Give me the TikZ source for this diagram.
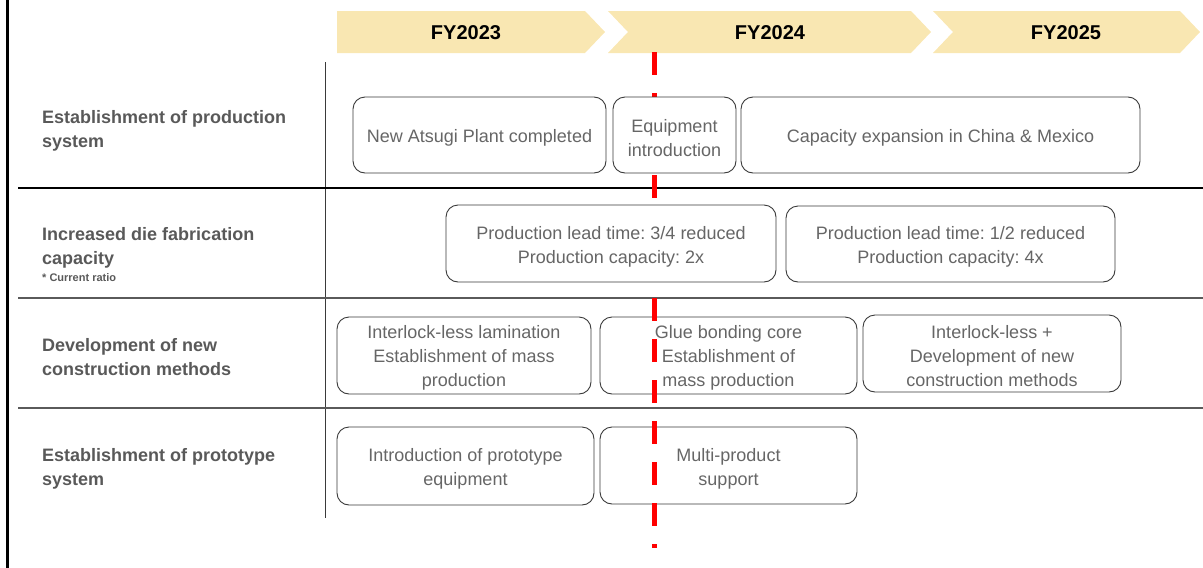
\documentclass[tikz,border=0pt]{standalone}
\usepackage{fontspec}
\setmainfont{Liberation Sans}
\frenchspacing
\definecolor{chev}{HTML}{F9E7B2}
\definecolor{boxline}{HTML}{3A3A3A}
\definecolor{boxtext}{HTML}{666666}
\definecolor{labeltext}{HTML}{595959}
\definecolor{gridgray}{HTML}{5A5A5A}
\definecolor{markred}{HTML}{FF0000}
\tikzset{
  box/.style={draw=boxline, line width=0.9pt, rounded corners=12pt, inner sep=0pt},
  frontbox/.style={box, fill=white},
  btext/.style={inner sep=0pt, align=center, font=\fontsize{18}{24}\selectfont\frenchspacing, text=boxtext},
  rowlabel/.style={anchor=west, align=left, inner sep=0pt,
    font=\fontsize{18}{24}\selectfont\bfseries, text=labeltext},
  smallnote/.style={anchor=west, inner sep=0pt, font=\fontsize{11}{13}\selectfont\bfseries, text=labeltext},
  fylabel/.style={inner sep=0pt, font=\fontsize{20}{24}\selectfont\bfseries, text=black},
  chevron/.style={fill=chev, draw=none},
  redmark/.style={draw=markred, line width=5pt, dash pattern=on 23pt off 18pt},
}
\begin{document}
\begin{tikzpicture}[x=1pt, y=-1pt]
\useasboundingbox (0,0) rectangle (1203,568);

% frame and grid
\draw[line width=2.5pt, black] (7.5,0) -- (7.5,568);
\draw[line width=1pt, boxline] (325,62) -- (325,518);
\draw[line width=1.2pt, black] (18,188) -- (1203,188);
\draw[line width=1.5pt, gridgray] (18,298) -- (1203,298);
\draw[line width=1.5pt, gridgray] (18,408) -- (1203,408);

% chevrons
\path[chevron] (337,11) -- (585,11) -- (605,32) -- (585,53) -- (337,53) -- cycle;
\path[chevron] (608,11) -- (911,11) -- (931,32) -- (911,53) -- (608,53) -- (628,32) -- cycle;
\path[chevron] (933,11) -- (1180,11) -- (1200,32) -- (1180,53) -- (933,53) -- (953,32) -- cycle;
\node[fylabel] (fy23) at (466,33) {FY2023};
\node[fylabel] (fy24) at (770,33) {FY2024};
\node[fylabel] (fy25) at (1066,33) {FY2025};

% row labels
\node[rowlabel] (l1) at (42,131) {Establishment of production\\system};
\node[rowlabel] (l2) at (42,248) {Increased die fabrication\\capacity};
\node[smallnote] (l2n) at (42,277.5) {* Current ratio};
\node[rowlabel] (l3) at (42,357) {Development of new\\construction methods};
\node[rowlabel] (l4) at (42,469) {Establishment of prototype\\system};

% rows 3-4 (under the red line)
\node[box, minimum width=254pt, minimum height=77pt] (b31) at (464,355.5) {};
\node[box, minimum width=257pt, minimum height=77pt] (b32) at (728.5,355.5) {};
\node[box, minimum width=258pt, minimum height=77pt] (b33) at (992,353.5) {};
\node[box, minimum width=257pt, minimum height=78pt] (b41) at (465.5,466) {};
\node[box, minimum width=257pt, minimum height=77pt] (b42) at (728.5,465.5) {};
\node[btext] (t31) at ([yshift=-2.5pt]b31.center) {Interlock-less lamination\\Establishment of mass\\production};
\node[btext] (t32) at ([yshift=-2.5pt]b32.center) {Glue bonding core\\Establishment of\\mass production};
\node[btext] (t33) at ([yshift=-2.5pt]b33.center) {Interlock-less +\\Development of new\\construction methods};
\node[btext] (t41) at ([yshift=-3pt]b41.center) {Introduction of prototype\\equipment};
\node[btext] (t42) at ([yshift=-3pt]b42.center) {Multi-product\\support};

% red current-time marker
\coordinate (rtop) at (654,52);
\coordinate (rbot) at (654,548);
\draw[redmark] (rtop) -- (rbot);

% rows 1-2 (over the red line)
\node[frontbox, minimum width=253pt, minimum height=76pt] (b11) at (479.5,135) {};
\node[frontbox, minimum width=123pt, minimum height=76pt] (b12) at (674.5,135) {};
\node[frontbox, minimum width=399pt, minimum height=76pt] (b13) at (940.5,135) {};
\node[frontbox, minimum width=330pt, minimum height=77pt] (b21) at (611,243.5) {};
\node[frontbox, minimum width=329pt, minimum height=76pt] (b22) at (950.5,244) {};
\node[btext] (t11) at ([yshift=-3pt]b11.center) {New Atsugi Plant completed};
\node[btext] (t12) at ([yshift=-3pt]b12.center) {Equipment\\introduction};
\node[btext] (t13) at ([yshift=-3pt]b13.center) {Capacity expansion in China \& Mexico};
\node[btext] (t21) at ([yshift=-3pt]b21.center) {Production lead time: 3/4 reduced\\Production capacity: 2x};
\node[btext] (t22) at ([yshift=-3pt]b22.center) {Production lead time: 1/2 reduced\\Production capacity: 4x};
\end{tikzpicture}
\end{document}
